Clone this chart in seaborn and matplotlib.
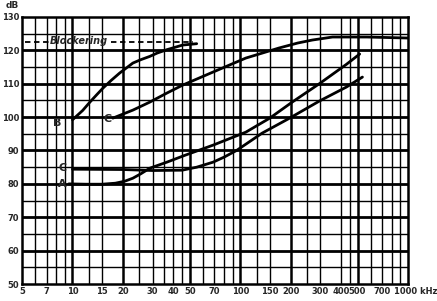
import numpy as np
import pandas as pd
import matplotlib
matplotlib.use("Agg")
import matplotlib.pyplot as plt
import matplotlib.transforms as mtrans
import seaborn as sns

# ---- data ----
b_f = [10, 11.5, 12.7, 14, 15.2, 17, 19.1, 22.9, 25.5, 28.9, 32, 36.5, 45.4, 55]
b_db = [99.2, 102.0, 104.5, 106.8, 108.7, 111.0, 113.2, 116.2, 117.2, 118.2, 119.2, 120.2, 121.6, 122.0]

c_up_f = [17.4, 22.9, 28.9, 36.5, 45.4, 68.8, 108, 170, 220, 269, 355, 569, 1000]
c_up_db = [99.7, 102.1, 104.5, 107.2, 109.6, 113.5, 117.7, 120.7, 122.2, 123.1, 124.0, 124.0, 123.7]

a_f = [9.5, 12, 15, 18, 20.5, 22.9, 25.5, 28.9, 36.5, 47, 68.8, 108, 150, 204, 296, 429, 515]
a_db = [80.0, 79.9, 79.9, 80.2, 80.8, 81.7, 83.0, 84.7, 86.5, 88.6, 91.6, 95.5, 99.7, 104.5, 110.0, 115.8, 118.9]

c_lo_f = [10, 20, 30, 45, 55, 68.8, 80, 95, 135, 197, 296, 429, 535]
c_lo_db = [84.4, 84.3, 84.0, 84.1, 85.0, 86.5, 88.0, 90.0, 95.2, 99.7, 104.8, 109.0, 112.0]

block_db = 122.5
xticks = [5, 7, 10, 15, 20, 30, 40, 50, 70, 100, 150, 200, 300, 400, 500, 700, 1000]
xtick_labels = ["5", "7", "10", "15", "20", "30", "40", "50", "70", "100", "150",
                "200", "300", "400", "500", "700", "1000 kHz"]
yticks = [50, 60, 70, 80, 90, 100, 110, 120, 130]

frames = []
for name, f, d in [("B", b_f, b_db), ("C1", c_up_f, c_up_db),
                   ("A", a_f, a_db), ("C2", c_lo_f, c_lo_db)]:
    frames.append(pd.DataFrame({"f": f, "dB": d, "curve": name}))
df = pd.concat(frames, ignore_index=True)

sns.set_style("white")
plt.rcParams["font.family"] = ["DejaVu Sans"]

fig = plt.figure(figsize=(4.37, 3.01), dpi=100)
ax = fig.add_axes([22 / 437, 1 - 284 / 301, 386 / 437, 267 / 301])
ax.set_xscale("log")
ax.set_xlim(5, 1000)
ax.set_ylim(50, 130)

# grid
thin_v = [6, 7, 8, 9, 12.5, 15, 25, 30, 35, 40, 45, 60, 70, 80, 90,
          125, 150, 250, 300, 400, 450, 600, 700, 800, 900]
thick_v = [10, 20, 50, 100, 200, 500]
for v in thin_v:
    ax.axvline(v, color="black", lw=1.0, zorder=1)
for v in thick_v:
    ax.axvline(v, color="black", lw=1.8, zorder=1)
for h in range(55, 130, 10):
    ax.axhline(h, color="black", lw=1.0, zorder=1)
for h in range(60, 130, 10):
    ax.axhline(h, color="black", lw=2.0, zorder=1)

sns.lineplot(data=df, x="f", y="dB", units="curve", estimator=None, sort=False,
             color="black", lw=2.0, ax=ax, zorder=3, legend=False)

# Blockering dashed line
ax.hlines(block_db, 5.2, 7.2, colors="black", linestyles=(0, (3, 2)), lw=1.3, zorder=3)
ax.hlines(block_db, 17.0, 52, colors="black", linestyles=(0, (3, 2)), lw=1.3, zorder=3)
ax.text(7.3, block_db + 0.4, "Blockering", fontsize=7, fontweight="bold",
        style="italic", va="center", ha="left", zorder=4)

# curve labels
lab = dict(fontsize=8, fontweight="bold", ha="center", va="center", zorder=4)
ax.text(8.1, 98.2, "B", **lab)
ax.text(16.2, 99.3, "C", **lab)
ax.text(8.7, 84.7, "C", **lab)
ax.text(8.7, 80.0, "A", **lab)

ax.set_xticks(xticks)
ax.set_xticklabels(xtick_labels)
ax.xaxis.set_minor_locator(matplotlib.ticker.NullLocator())
ax.set_yticks(yticks)
ax.tick_params(axis="both", length=0, labelsize=6, pad=2)
for t in ax.get_xticklabels() + ax.get_yticklabels():
    t.set_fontweight("bold")
last = ax.get_xticklabels()[-1]
last.set_transform(last.get_transform() + mtrans.ScaledTranslation(0.08, 0, fig.dpi_scale_trans))
ax.set_xlabel("")
ax.set_ylabel("")
for s in ax.spines.values():
    s.set_color("black")
    s.set_linewidth(1.8)
fig.text(12 / 437, 1 - 6 / 301, "dB", fontsize=6.5, fontweight="bold",
         ha="center", va="center")

fig.savefig("out.png", dpi=100)
